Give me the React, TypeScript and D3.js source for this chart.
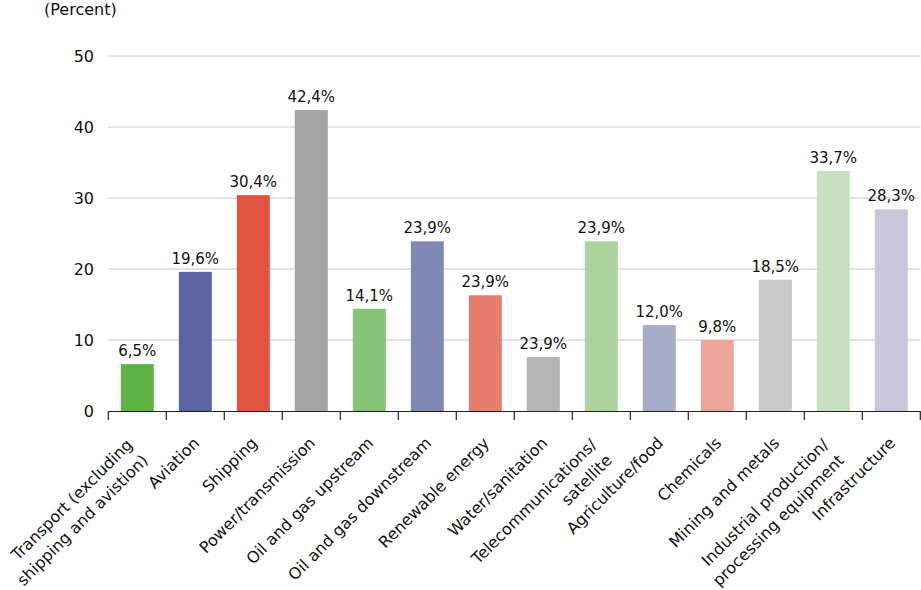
import React from "react";
import * as d3 from "d3";

const categories: string[][] = [
  ["Transport (excluding", "shipping and avistion)"],
  ["Aviation"],
  ["Shipping"],
  ["Power/transmission"],
  ["Oil and gas upstream"],
  ["Oil and gas downstream"],
  ["Renewable energy"],
  ["Water/sanitation"],
  ["Telecommunications/", "satellite"],
  ["Agriculture/food"],
  ["Chemicals"],
  ["Mining and metals"],
  ["Industrial production/", "processing equipment"],
  ["Infrastructure"],
];
const values: number[] = [6.6, 19.6, 30.4, 42.4, 14.4, 23.9, 16.3, 7.6, 23.9, 12.1, 10.0, 18.5, 33.8, 28.4];
const valueLabels: string[] = ["6,5%", "19,6%", "30,4%", "42,4%", "14,1%", "23,9%", "23,9%", "23,9%", "23,9%", "12,0%", "9,8%", "18,5%", "33,7%", "28,3%"];
const colors: string[] = ["#5db344", "#5a64a0", "#e05441", "#a5a5a5", "#88c478", "#8088b4", "#e67c6e", "#b5b5b5", "#acd29e", "#a7acc8", "#eca59a", "#c9c9c9", "#c8e0c0", "#c6c8da"];
const yTicks: number[] = [0, 10, 20, 30, 40, 50];
const yUnit = "(Percent)";

const W = 921, H = 590;
const FONT = "'DejaVu Sans', sans-serif";

export default function App() {
  const ids = categories.map((_, i) => String(i));
  const x = d3.scaleBand<string>().domain(ids).range([108.3, 920.3]).paddingInner(25 / 58).paddingOuter(25 / 116);
  const y = d3.scaleLinear().domain([0, 50]).range([411, 56]);
  const step = x.step();
  const bw = x.bandwidth();
  const bounds = ids.map((id) => (x(id) as number) - (step - bw) / 2);
  bounds.push(bounds[bounds.length - 1] + step);

  return (
    <svg width={W} height={H} style={{ position: "absolute", left: 0, top: 0, background: "#fff" }} fontFamily={FONT}>
      <text x={44} y={15} fontSize={16} fill="#111">{yUnit}</text>
      {yTicks.map((t) => (
        <g key={t}>
          {t > 0 && <line x1={108.3} x2={920.3} y1={y(t)} y2={y(t)} stroke="#c8c8c8" strokeWidth={1} />}
          <text x={94} y={y(t)} dy="0.36em" textAnchor="end" fontSize={16} fill="#111">{t}</text>
        </g>
      ))}
      {ids.map((id, i) => (
        <g key={id}>
          <rect x={x(id)} y={y(values[i])} width={bw} height={y(0) - y(values[i])} fill={colors[i]} />
          <text x={(x(id) as number) + bw / 2} y={y(values[i]) - 8} textAnchor="middle" fontSize={15} fill="#111">{valueLabels[i]}</text>
        </g>
      ))}
      <line x1={108.3} x2={920.3} y1={411.5} y2={411.5} stroke="#222" strokeWidth={1.2} />
      {bounds.map((b, i) => (
        <line key={i} x1={b} x2={b} y1={411} y2={420} stroke="#222" strokeWidth={1.2} />
      ))}
      {ids.map((id, i) => {
        const cx = (x(id) as number) + bw / 2 + 5;
        const lines = categories[i];
        return (
          <text key={id} transform={`translate(${cx},444) rotate(-45)`} textAnchor="end" fontSize={16} fill="#111">
            {lines.length === 1 ? (
              <tspan x={0} y={0}>{lines[0]}</tspan>
            ) : (
              lines.map((l, j) => (
                <tspan key={j} x={-7.5} y={-5 + j * 22}>{l}</tspan>
              ))
            )}
          </text>
        );
      })}
    </svg>
  );
}
